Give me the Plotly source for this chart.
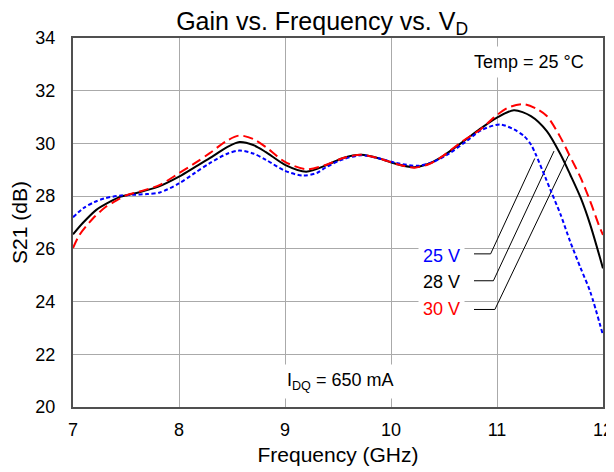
import plotly.graph_objects as go

# ---- data ----
freq_28v = [7.0, 7.09, 7.22, 7.35, 7.45, 7.6, 7.8, 8.0, 8.15, 8.29, 8.45, 8.57, 8.7, 8.82,
            9.0, 9.2, 9.4, 9.55, 9.72, 9.9, 10.05, 10.22, 10.35, 10.46, 10.68, 10.84,
            11.0, 11.16, 11.32, 11.47, 11.6, 11.69, 11.79, 11.88, 12.0]
gain_28v = [26.55, 26.97, 27.48, 27.79, 27.98, 28.12, 28.35, 28.74, 29.1, 29.44, 29.85, 30.05, 29.94, 29.67,
            29.19, 28.93, 29.19, 29.45, 29.57, 29.42, 29.22, 29.1, 29.22, 29.44, 30.07, 30.55,
            30.98, 31.26, 31.04, 30.47, 29.58, 28.82, 27.93, 26.91, 25.26]

freq_30v = [7.0, 7.06, 7.19, 7.31, 7.39, 7.5, 7.65, 7.82, 8.0, 8.15, 8.29, 8.45, 8.57, 8.7, 8.82,
            9.0, 9.2, 9.39, 9.55, 9.72, 9.9, 10.05, 10.22, 10.35, 10.46, 10.68, 10.85,
            10.97, 11.1, 11.255, 11.364, 11.47, 11.6, 11.68, 11.79, 11.88, 11.96, 12.0]
gain_30v = [26.03, 26.52, 27.16, 27.6, 27.79, 28.03, 28.2, 28.43, 28.87, 29.25, 29.63, 30.1, 30.3, 30.17, 29.86,
            29.3, 29.02, 29.19, 29.45, 29.57, 29.42, 29.22, 29.08, 29.2, 29.44, 30.1, 30.55,
            30.98, 31.35, 31.49, 31.33, 31.04, 30.22, 29.58, 28.69, 27.8, 26.91, 26.53]

freq_25v = [7.0, 7.1, 7.2, 7.3, 7.44, 7.56, 7.7, 7.82, 8.0, 8.15, 8.29, 8.45, 8.57, 8.7, 8.82,
            9.0, 9.17, 9.3, 9.39, 9.55, 9.72, 9.9, 10.05, 10.25, 10.4, 10.55, 10.7, 10.85,
            11.03, 11.16, 11.255, 11.32, 11.366, 11.458, 11.51, 11.6, 11.69, 11.79, 11.88, 12.0]
gain_25v = [27.2, 27.55, 27.77, 27.92, 28.02, 28.05, 28.08, 28.14, 28.48, 28.88, 29.25, 29.6, 29.73, 29.62, 29.38,
            28.96, 28.78, 28.88, 29.1, 29.4, 29.55, 29.42, 29.26, 29.15, 29.3, 29.62, 30.05, 30.5,
            30.72, 30.53, 30.28, 29.96, 29.58, 28.69, 28.18, 27.3, 26.28, 25.26, 24.37, 22.72]

# leader lines (label -> curve)
leader_25v_x = [10.783, 10.94, 11.356]
leader_25v_y = [25.81, 25.81, 29.43]
leader_28v_x = [10.783, 10.966, 11.538]
leader_28v_y = [24.79, 24.79, 29.71]
leader_30v_x = [10.783, 10.98, 11.679]
leader_30v_y = [23.70, 23.70, 29.58]

series_labels = ["25 V", "28 V", "30 V"]
label_y = [25.74, 24.75, 23.71]
x_ticks = [7, 8, 9, 10, 11, 12]
y_ticks = [20, 22, 24, 26, 28, 30, 32, 34]

FONT = "Arial, 'Liberation Sans', Helvetica, sans-serif"
BLUE = "#0000ff"
RED = "#ff0000"
BLACK = "#000000"

# the page body has an 8 px default margin, so the figure is sized/offset to compensate
W, H = 606, 464

fig = go.Figure()

for lx, ly in [(leader_25v_x, leader_25v_y), (leader_28v_x, leader_28v_y), (leader_30v_x, leader_30v_y)]:
    fig.add_trace(go.Scatter(x=lx, y=ly, mode="lines", line=dict(color=BLACK, width=1),
                             showlegend=False, hoverinfo="skip"))

fig.add_trace(go.Scatter(x=freq_28v, y=gain_28v, mode="lines", name="28 V",
                         line=dict(color=BLACK, width=2, shape="spline", smoothing=0.8)))
fig.add_trace(go.Scatter(x=freq_25v, y=gain_25v, mode="lines", name="25 V",
                         line=dict(color=BLUE, width=2, dash="4px,2.5px", shape="spline", smoothing=0.8)))
fig.add_trace(go.Scatter(x=freq_30v, y=gain_30v, mode="lines", name="30 V",
                         line=dict(color=RED, width=2, dash="10px,5px", shape="spline", smoothing=0.8)))

ann = []
for txt, yy, col in zip(series_labels, label_y, [BLUE, BLACK, RED]):
    ann.append(dict(x=10.70, y=yy, xref="x", yref="y", text=txt, showarrow=False,
                    xanchor="right", yanchor="middle", font=dict(size=18, color=col, family=FONT),
                    bgcolor="white", borderpad=4))
ann.append(dict(x=11.30, y=33.09, xref="x", yref="y", text="Temp = 25 °C", showarrow=False,
                xanchor="center", yanchor="middle", font=dict(size=18, color=BLACK, family=FONT),
                bgcolor="white", borderpad=5))
ann.append(dict(x=9.52, y=20.98, xref="x", yref="y", text="I<sub>DQ</sub> = 650 mA", showarrow=False,
                xanchor="center", yanchor="middle", font=dict(size=18, color=BLACK, family=FONT),
                bgcolor="white", borderpad=5))

fig.update_layout(
    width=W, height=H,
    margin=dict(l=65, r=11, t=30, b=65, autoexpand=False),
    paper_bgcolor="white", plot_bgcolor="white",
    showlegend=False,
    font=dict(family=FONT, color=BLACK),
    title=dict(text="Gain vs. Frequency vs. V<sub>D</sub>", font=dict(size=25, family=FONT, color=BLACK),
               x=0.47, xref="paper", xanchor="center", y=1 - 13 / H, yref="container", yanchor="middle",
               automargin=False),
    annotations=ann,
    xaxis=dict(range=[7, 12], tickvals=x_ticks, ticktext=[str(v) for v in x_ticks],
               showgrid=True, gridcolor="#aaaaaa", gridwidth=1, zeroline=False,
               showline=True, linecolor="#505050", linewidth=2, mirror=True,
               ticks="", tickfont=dict(size=18, family=FONT), automargin=False, ticklabelstandoff=5,
               title=dict(text="Frequency (GHz)", font=dict(size=21, family=FONT), standoff=9)),
    yaxis=dict(range=[20, 34], tickvals=y_ticks, ticktext=[str(v) for v in y_ticks],
               showgrid=True, gridcolor="#aaaaaa", gridwidth=1, zeroline=False,
               showline=True, linecolor="#505050", linewidth=2, mirror=True,
               ticks="", tickfont=dict(size=18, family=FONT), automargin=False, ticklabelstandoff=12,
               title=dict(text="S21 (dB)", font=dict(size=21, family=FONT), standoff=8)),
)

fig.write_html("out.html")
